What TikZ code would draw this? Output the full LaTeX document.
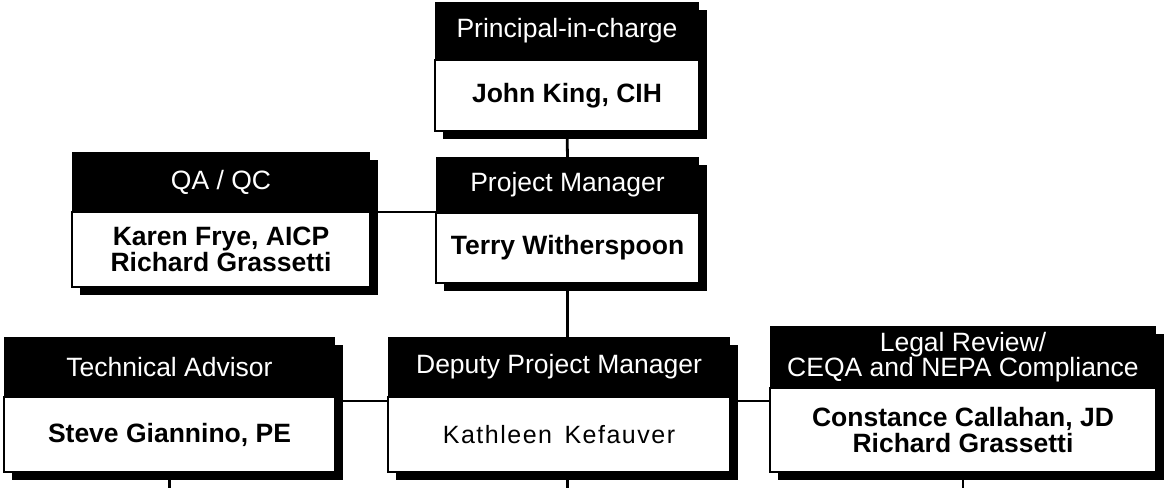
\documentclass[tikz,border=0pt]{standalone}
\usepackage{fontspec}
\setmainfont{Liberation Sans}
\usetikzlibrary{positioning,backgrounds}

\begin{document}
\begin{tikzpicture}[x=1pt,y=-1pt,
	head/.style={fill=black,text=white,inner sep=0pt,outer sep=0pt,align=center,font=\fontsize{26.5}{24}\selectfont},
	body/.style={draw=black,line width=1.5pt,fill=white,inner sep=0pt,outer sep=0pt,align=center,font=\bfseries\fontsize{26.5}{26}\selectfont},
	link/.style={line width=2.8pt}]
	\useasboundingbox (0,0) rectangle (1164,488);
	\coordinate (bottom) at (0,488);
	
	% top row
	\node[head,minimum width=264pt,minimum height=58pt] (pic-head) at (567,31) {Principal-in-charge};
	\node[body,minimum width=264pt,minimum height=71pt,below=0pt of pic-head] (pic-body) {John King, CIH};
	
	\node[head,minimum width=263pt,minimum height=56pt] (pm-head) at (567.5,185) {Project Manager};
	\node[body,minimum width=263pt,minimum height=70pt,below=0pt of pm-head] (pm-body) {Terry Witherspoon};
	
	\node[head,minimum width=298pt,minimum height=60pt] (qa-head) at (221,182) {QA / QC};
	\node[body,minimum width=298pt,minimum height=75pt,below=0pt of qa-head] (qa-body) {Karen Frye, AICP\\Richard Grassetti};
	
	% bottom row
	\node[head,minimum width=331pt,minimum height=60pt] (ta-head) at (169.5,367) {Technical Advisor};
	\node[body,minimum width=331pt,minimum height=75pt,below=0pt of ta-head] (ta-body) {Steve Giannino, PE};
	
	\node[head,minimum width=342pt,minimum height=60pt] (dpm-head) at (559,367) {Deputy Project Manager};
	\node[body,minimum width=342pt,minimum height=75pt,below=0pt of dpm-head,
		font=\mdseries\fontsize{25}{26}\selectfont\addfontfeature{LetterSpace=6}] (dpm-body) {Kathleen\hspace{0.5em}Kefauver};
	
	\node[head,minimum width=386pt,minimum height=62pt] (legal-head) at (963,357) {Legal Review/\\CEQA and NEPA Compliance};
	\node[body,minimum width=386pt,minimum height=84pt,below=0pt of legal-head] (legal-body) {Constance Callahan, JD\\Richard Grassetti};
	
	% paper and shadows
	\begin{scope}[on background layer]
		\fill[white] (0,0) rectangle (1164,488);
		\foreach \b in {pic,pm,qa,ta,dpm,legal}
		\fill ([shift={(8,8)}]\b-head.north west) rectangle ([shift={(8,8)}]\b-body.south east);
	\end{scope}
	
	% connectors
	\draw[link] (pic-body.south) -- (pm-head.north);
	\draw[link] (qa-body.north east) -- (qa-body.north east -| pm-body.west);
	\draw[link] (pm-body.south) -- (pm-body.south |- dpm-head.north);
	\draw[link] ([yshift=-4pt]ta-body.north east) -- ([yshift=-4pt]ta-body.north east -| dpm-body.west);
	\draw[link] ([yshift=-4pt]dpm-body.north east) -- ([yshift=-4pt]dpm-body.north east -| legal-body.west);
	\draw[link] (ta-body.south) -- (ta-body.south |- bottom);
	\draw[link] (pm-body.south |- dpm-body.south) -- (pm-body.south |- bottom);
	\draw[link] (legal-body.south) -- (legal-body.south |- bottom);
\end{tikzpicture}
\end{document}
